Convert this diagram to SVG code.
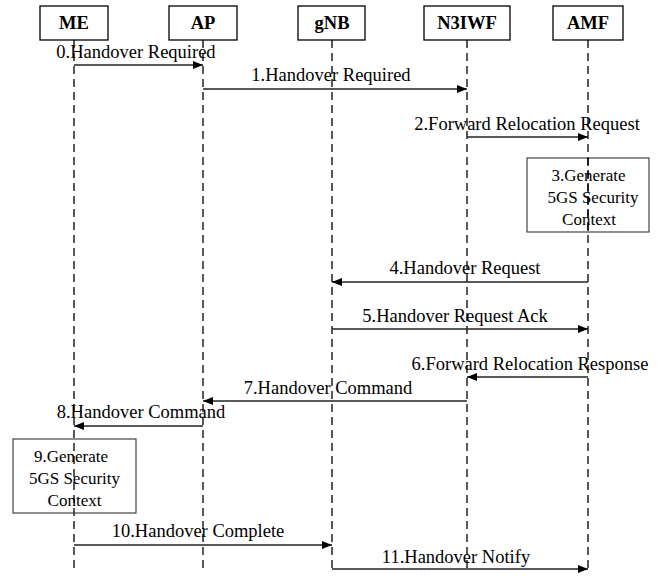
<svg xmlns="http://www.w3.org/2000/svg" width="670" height="576" viewBox="0 0 670 576">
  <style>
    .hdr { fill: #fff; stroke: #000; stroke-width: 1.3; }
    .hdr-t { font-family: "Liberation Serif", "Times New Roman", serif; font-weight: bold; font-size: 18.5px; text-anchor: middle; fill: #000; }
    .life { stroke: #000; stroke-width: 1.3; stroke-dasharray: 8 5; fill: none; }
    .msg { stroke: #222; stroke-width: 1.3; fill: none; marker-end: url(#arr); }
    .lbl { font-family: "Liberation Serif", "Times New Roman", serif; font-size: 18.5px; text-anchor: middle; fill: #000; }
    .act { fill: none; stroke: #333; stroke-width: 1.1; }
    .act-t { font-family: "Liberation Serif", "Times New Roman", serif; font-size: 17px; text-anchor: middle; fill: #000; }
  </style>
  <defs>
    <marker id="arr" viewBox="0 0 10 8" refX="10" refY="4" markerWidth="10" markerHeight="8" markerUnits="userSpaceOnUse" orient="auto">
      <path d="M0,0 L10,4 L0,8 Z" fill="#000"/>
    </marker>
  </defs>
  <rect width="670" height="576" fill="#fff"/>

  <!-- lifelines -->
  <g id="lifelines">
    <line class="life" x1="74" y1="40" x2="74" y2="572"/>
    <line class="life" x1="203" y1="40" x2="203" y2="572"/>
    <line class="life" x1="332" y1="40" x2="332" y2="572"/>
    <line class="life" x1="467" y1="40" x2="467" y2="572"/>
    <line class="life" x1="588" y1="40" x2="588" y2="572"/>
  </g>

  <!-- participants -->
  <g id="ME"><rect class="hdr" x="40" y="6" width="68" height="34"/><text class="hdr-t" x="74" y="29">ME</text></g>
  <g id="AP"><rect class="hdr" x="169" y="6" width="68" height="34"/><text class="hdr-t" x="203" y="29">AP</text></g>
  <g id="gNB"><rect class="hdr" x="298" y="6" width="67" height="34"/><text class="hdr-t" x="332" y="29">gNB</text></g>
  <g id="N3IWF"><rect class="hdr" x="424" y="6" width="86" height="34"/><text class="hdr-t" x="467" y="29">N3IWF</text></g>
  <g id="AMF"><rect class="hdr" x="553" y="6" width="70" height="34"/><text class="hdr-t" x="588" y="29">AMF</text></g>

  <!-- activity boxes -->
  <g id="step3">
    <rect class="act" x="527" y="158" width="122" height="74" fill="#fff"/>
    <line class="life" x1="588" y1="158" x2="588" y2="232"/>
    <text class="act-t" x="588.5" y="181">3.Generate</text>
    <text class="act-t" x="593" y="203">5GS Security</text>
    <text class="act-t" x="589" y="225">Context</text>
  </g>
  <g id="step9">
    <rect class="act" x="13" y="439" width="123" height="74"/>
    <text class="act-t" x="71" y="462">9.Generate</text>
    <text class="act-t" x="74.5" y="484">5GS Security</text>
    <text class="act-t" x="74.5" y="506">Context</text>
  </g>

  <!-- messages -->
  <g id="connectors">
    <line class="msg" x1="74" y1="65" x2="203" y2="65"/>
    <text class="lbl" x="136" y="58">0.Handover Required</text>

    <line class="msg" x1="203" y1="89" x2="467" y2="89"/>
    <text class="lbl" x="331" y="81">1.Handover Required</text>

    <line class="msg" x1="467" y1="137" x2="588" y2="137"/>
    <text class="lbl" x="527" y="130">2.Forward Relocation Request</text>

    <line class="msg" x1="588" y1="282" x2="332" y2="282"/>
    <text class="lbl" x="465" y="274">4.Handover Request</text>

    <line class="msg" x1="332" y1="329" x2="588" y2="329"/>
    <text class="lbl" x="455" y="322">5.Handover Request Ack</text>

    <line class="msg" x1="588" y1="377" x2="467" y2="377"/>
    <text class="lbl" x="530" y="370">6.Forward Relocation Response</text>

    <line class="msg" x1="467" y1="401" x2="203" y2="401"/>
    <text class="lbl" x="328" y="394">7.Handover Command</text>

    <line class="msg" x1="203" y1="426" x2="74" y2="426"/>
    <text class="lbl" x="141" y="418">8.Handover Command</text>

    <line class="msg" x1="74" y1="545" x2="332" y2="545"/>
    <text class="lbl" x="198" y="537">10.Handover Complete</text>

    <line class="msg" x1="332" y1="569" x2="588" y2="569"/>
    <text class="lbl" x="456" y="563">11.Handover Notify</text>
  </g>
</svg>
